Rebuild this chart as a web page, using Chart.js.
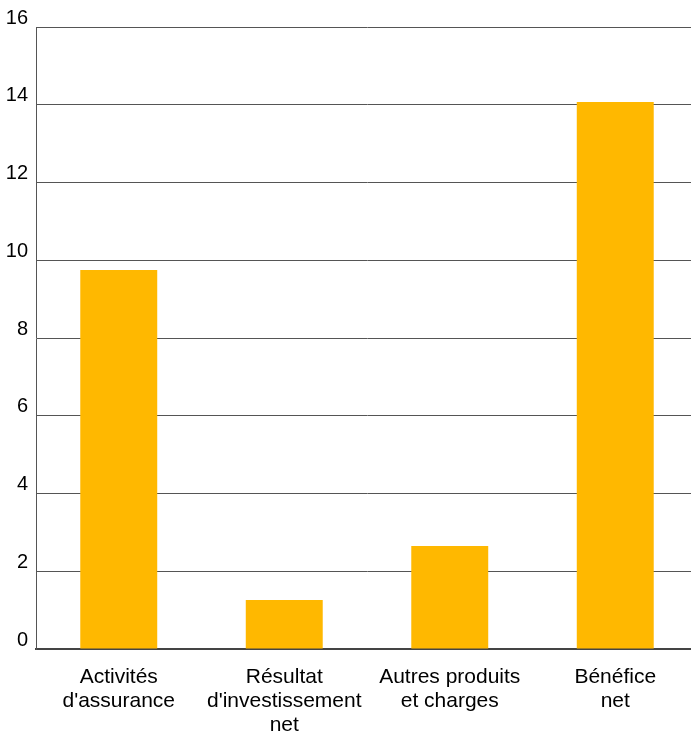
<!DOCTYPE html>
<html>
<head>
<meta charset="utf-8">
<script src="https://cdn.jsdelivr.net/npm/chart.js@4"></script>
<style>
  html, body { margin: 0; padding: 0; background: #fff; overflow: hidden; }
  #wrap { width: 698px; height: 736px; position: relative; }
</style>
</head>
<body>
<div id="wrap"><canvas id="chart"></canvas></div>
<script>
// Données
const categories = [
  ['Activités', "d'assurance"],
  ['Résultat', "d'investissement", 'net'],
  ['Autres produits', 'et charges'],
  ['Bénéfice', 'net']
];
const values = [9.75, 1.26, 2.65, 14.07];
const yTicks = [0, 2, 4, 6, 8, 10, 12, 14, 16];

const fontFamily = "'Liberation Sans', Arial, sans-serif";

new Chart(document.getElementById('chart'), {
  type: 'bar',
  data: {
    labels: categories,
    datasets: [{
      data: values,
      backgroundColor: '#FFB800',
      borderWidth: 0,
      barPercentage: 0.465,
      categoryPercentage: 1
    }]
  },
  options: {
    responsive: true,
    maintainAspectRatio: false,
    animation: false,
    layout: { padding: { top: 27, right: 0, left: 0, bottom: 0 } },
    plugins: { legend: { display: false }, tooltip: { enabled: false } },
    scales: {
      x: {
        grid: { display: false, drawTicks: false },
        border: { color: '#444', width: 2 },
        ticks: {
          color: '#000',
          font: { family: fontFamily, size: 21, lineHeight: 1.15 },
          padding: 16,
          maxRotation: 0,
          autoSkip: false
        },
        afterFit: (s) => { s.height = 87; }
      },
      y: {
        min: 0,
        max: 16,
        afterBuildTicks: (s) => { s.ticks = yTicks.map(v => ({ value: v })); },
        grid: { color: '#555', lineWidth: 1, drawTicks: false },
        border: { color: '#555', width: 1 },
        ticks: {
          color: '#000',
          font: { family: fontFamily, size: 20 },
          padding: 8,
          labelOffset: -9
        },
        afterFit: (s) => { s.width = 36; }
      }
    }
  }
});
</script>
</body>
</html>
